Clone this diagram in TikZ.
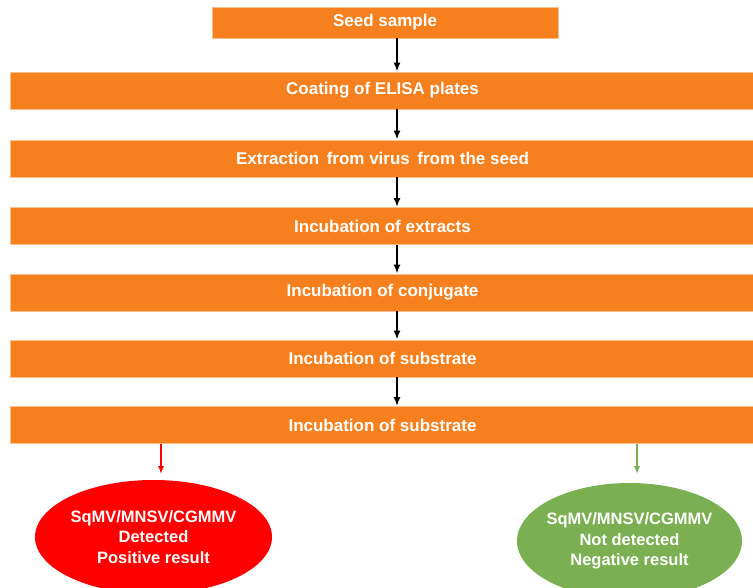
\documentclass[tikz,border=0pt]{standalone}
\usepackage{fontspec}
\setmainfont{Liberation Sans}
\usetikzlibrary{arrows.meta,shapes.geometric}
\definecolor{boxorange}{RGB}{247,128,30}
\definecolor{boxedge}{RGB}{250,190,140}
\definecolor{posred}{RGB}{255,0,0}
\definecolor{neggreen}{RGB}{122,175,82}
\tikzset{
  stepbox/.style={rectangle, fill=boxorange, draw=boxedge, line width=0.8pt,
    minimum height=37pt, inner sep=0pt, text=white,
    font=\bfseries\fontsize{17}{20}\selectfont},
  flowarrow/.style={-{Latex[length=9pt,width=7pt]}, line width=1.8pt, black},
  resultarrow/.style={-{Latex[length=8pt,width=6.5pt]}, line width=1.6pt},
  result/.style={ellipse, inner xsep=-6pt, inner ysep=0pt, text=white, align=center,
    font=\bfseries\fontsize{16.5}{20.5}\selectfont},
}
\begin{document}
\begin{tikzpicture}[x=1pt,y=-1pt]
\useasboundingbox (0,0) rectangle (753,588);
\node[stepbox, minimum width=346pt, minimum height=31pt] (s0) at (385,22.5) {Seed sample};
\node[stepbox, minimum width=745pt] (s1) at (382.5,90.5) {Coating of ELISA plates};
\node[stepbox, minimum width=745pt] (s2) at (382.5,158.5) {Extraction\, from virus\, from the seed};
\node[stepbox, minimum width=745pt] (s3) at (382.5,226) {Incubation of extracts};
\node[stepbox, minimum width=745pt] (s4) at (382.5,292.5) {Incubation of conjugate};
\node[stepbox, minimum width=745pt] (s5) at (382.5,358.5) {Incubation of substrate};
\node[stepbox, minimum width=745pt] (s6) at (382.5,425) {Incubation of substrate};
\coordinate (ax) at (397,0);
\coordinate (rx) at (161,0);
\coordinate (gx) at (637,0);
\node[result, fill=posred, minimum width=237pt, minimum height=114pt] (pos) at (153.5,537)
  {SqMV/MNSV/CGMMV\\Detected\\Positive result};
\node[result, fill=neggreen, minimum width=225pt, minimum height=116pt] (neg) at (629.5,541)
  {SqMV/MNSV/CGMMV\\Not detected\\Negative result};
\draw[flowarrow] (s0.south -| ax) -- (s1.north -| ax);
\draw[flowarrow] (s1.south -| ax) -- (s2.north -| ax);
\draw[flowarrow] (s2.south -| ax) -- (s3.north -| ax);
\draw[flowarrow] (s3.south -| ax) -- (s4.north -| ax);
\draw[flowarrow] (s4.south -| ax) -- (s5.north -| ax);
\draw[flowarrow] (s5.south -| ax) -- (s6.north -| ax);
\coordinate (pend) at (161,474);
\coordinate (nend) at (637,474);
\draw[resultarrow, posred] (s6.south -| rx) -- (pend);
\draw[resultarrow, neggreen] (s6.south -| gx) -- (nend);
\end{tikzpicture}
\end{document}
